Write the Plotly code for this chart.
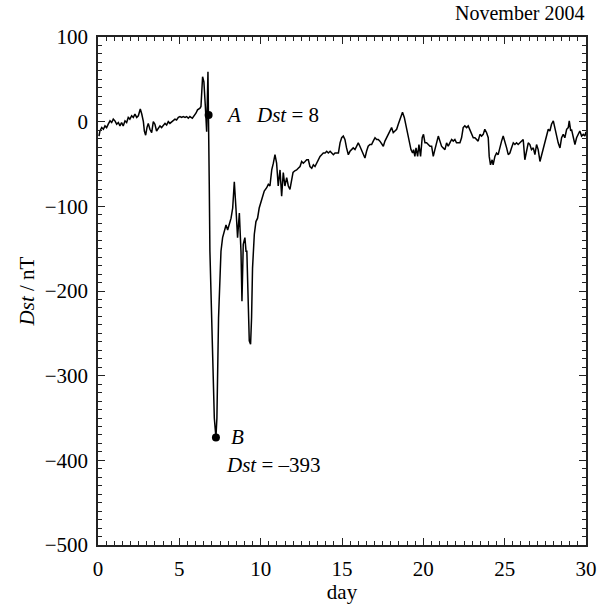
import plotly.graph_objects as go

# Dst index, November 2004
day = [0.06, 0.12, 0.23, 0.33, 0.43, 0.53, 0.63, 0.74, 0.84, 0.94, 1.04, 1.15, 1.25, 1.35, 1.45, 1.55,
       1.66, 1.76, 1.86, 1.96, 2.07, 2.17, 2.27, 2.38, 2.48, 2.6, 2.69, 2.79, 2.85, 2.93, 3.01, 3.09,
       3.19, 3.3, 3.4, 3.5, 3.6, 3.71, 3.81, 3.91, 4.01, 4.12, 4.22, 4.32, 4.42, 4.53, 4.63, 4.73,
       4.83, 4.94, 5.04, 5.14, 5.24, 5.35, 5.45, 5.55, 5.65, 5.8, 6.02, 6.12, 6.27, 6.33, 6.43, 6.51,
       6.6, 6.68, 6.76, 6.8, 6.84, 6.88, 6.96, 7.05, 7.15, 7.25, 7.31, 7.41, 7.5, 7.56, 7.66, 7.76,
       7.87, 7.97, 8.07, 8.18, 8.28, 8.38, 8.48, 8.58, 8.69, 8.79, 8.85, 8.93, 9.03, 9.1, 9.15, 9.22,
       9.3, 9.38, 9.44, 9.5, 9.61, 9.71, 9.81, 9.91, 10.02, 10.12, 10.22, 10.37, 10.47, 10.57, 10.68,
       10.78, 10.88, 10.98, 11.08, 11.19, 11.29, 11.39, 11.49, 11.6, 11.7, 11.8, 11.9, 11.99, 12.1,
       12.21, 12.31, 12.42, 12.52, 12.62, 12.73, 12.83, 12.93, 13.03, 13.14, 13.24, 13.34, 13.44,
       13.55, 13.65, 13.75, 13.85, 13.96, 14.06, 14.16, 14.27, 14.37, 14.47, 14.57, 14.68, 14.78,
       14.88, 14.98, 15.08, 15.18, 15.28, 15.39, 15.49, 15.59, 15.69, 15.8, 15.9, 16.0, 16.1, 16.2,
       16.3, 16.41, 16.51, 16.61, 16.72, 16.82, 16.92, 17.03, 17.13, 17.23, 17.33, 17.44, 17.54,
       17.64, 17.74, 17.84, 17.95, 18.05, 18.15, 18.25, 18.36, 18.46, 18.56, 18.66, 18.72, 18.83,
       18.93, 19.03, 19.13, 19.24, 19.34, 19.4, 19.48, 19.55, 19.65, 19.73, 19.83, 19.93, 20.01,
       20.1, 20.2, 20.3, 20.41, 20.51, 20.61, 20.71, 20.82, 20.92, 21.02, 21.12, 21.22, 21.33, 21.43,
       21.53, 21.63, 21.74, 21.84, 21.94, 22.04, 22.15, 22.25, 22.35, 22.45, 22.55, 22.66, 22.76,
       22.86, 22.96, 23.07, 23.17, 23.27, 23.37, 23.48, 23.58, 23.68, 23.78, 23.89, 23.99, 24.05,
       24.13, 24.23, 24.29, 24.4, 24.5, 24.6, 24.71, 24.81, 24.91, 25.01, 25.12, 25.22, 25.32, 25.42,
       25.53, 25.63, 25.73, 25.83, 25.94, 26.04, 26.14, 26.24, 26.35, 26.45, 26.55, 26.65, 26.76,
       26.86, 26.96, 27.06, 27.17, 27.27, 27.37, 27.47, 27.58, 27.68, 27.78, 27.88, 27.99, 28.09,
       28.19, 28.29, 28.4, 28.5, 28.6, 28.7, 28.81, 28.91, 28.97, 29.06, 29.11, 29.22, 29.32, 29.42,
       29.52, 29.62, 29.73, 29.83, 29.93, 30.0]
dst = [-17, -11, -7, -9, -5, -7, -3, 1, -1, 3, 1, -3, -1, -5, -1, -5,
       1, -1, 5, 3, 7, 5, 9, 5, 7, 15, 9, 0, -11, -16, -7, -2,
       -9, -13, 0, -3, -11, -7, -5, -7, -4, -2, -4, 0, -2, 0, 2, 3,
       2, 5, 6, 5, 6, 5, 6, 4, 6, 4, 10, 14, 16, 18, 53, 47,
       18, -12, 59, 8, -74, -153, -215, -271, -350, -373, -350, -232, -184, -153, -137, -129,
       -122, -128, -122, -114, -102, -71, -102, -137, -108, -153, -212, -145, -137, -153, -153, -212,
       -259, -263, -232, -173, -133, -118, -114, -102, -94, -90, -82, -78, -74, -76, -57,
       -49, -39, -49, -76, -57, -88, -60, -76, -66, -76, -80, -68, -60, -58,
       -57, -55, -53, -47, -49, -47, -45, -45, -53, -55, -51, -53, -49,
       -45, -41, -39, -37, -37, -35, -37, -35, -37, -39, -37, -37, -37,
       -25, -19, -17, -21, -31, -39, -35, -33, -31, -33, -29, -25, -29, -33,
       -37, -43, -35, -29, -27, -27, -23, -19, -21, -21, -23, -27, -29,
       -23, -19, -17, -11, -7, -13, -11, -9, -3, 3, 7, 11, 5,
       -5, -15, -23, -33, -37, -33, -41, -31, -41, -27, -41, -19, -15,
       -25, -25, -27, -29, -29, -41, -33, -23, -17, -23, -29, -31, -33, -25,
       -29, -25, -21, -23, -21, -25, -25, -25, -19, -7, -5, -7, -5,
       -9, -15, -19, -19, -21, -23, -15, -17, -15, -9, -13, -19, -41,
       -51, -45, -51, -41, -37, -39, -29, -23, -17, -23, -31, -39, -37, -31,
       -25, -27, -25, -27, -25, -23, -21, -45, -33, -25, -27, -33, -31,
       -39, -27, -33, -47, -39, -31, -25, -17, -9, -11, -3, 1, -9,
       -15, -25, -31, -19, -15, -19, -9, -7, 1, -11, -9, -17, -27, -19,
       -15, -11, -17, -15, -17, -12]

# marked points
pt_day = [6.8, 7.25]
pt_dst = [8, -373]

FONT = "Liberation Serif"
FS = 21

fig = go.Figure()
fig.add_trace(go.Scatter(x=day, y=dst, mode="lines",
                         line=dict(color="black", width=1.5), showlegend=False))
fig.add_trace(go.Scatter(x=pt_day, y=pt_dst, mode="markers",
                         marker=dict(color="black", size=8), showlegend=False))

fig.add_annotation(x=7.75, y=8, text="<i>A</i>", showarrow=False, xanchor="left",
                   font=dict(family=FONT, size=FS, color="black"))
fig.add_annotation(x=9.6, y=8, text="<i>Dst</i> = 8", showarrow=False, xanchor="left",
                   font=dict(family=FONT, size=FS, color="black"))
fig.add_annotation(x=8.05, y=-373, text="<i>B</i>", showarrow=False, xanchor="left",
                   font=dict(family=FONT, size=FS, color="black"))
fig.add_annotation(x=7.75, y=-406, text="<i>Dst</i> = \u2013393", showarrow=False, xanchor="left",
                   font=dict(family=FONT, size=FS, color="black"))
fig.add_annotation(x=1, y=1, xref="paper", yref="paper", yshift=11, text="November 2004",
                   showarrow=False, xanchor="right", yanchor="bottom",
                   font=dict(family=FONT, size=20, color="black"))

axis_common = dict(showline=True, linecolor="#222", linewidth=1.5, mirror="allticks",
                   ticks="inside", ticklen=7, tickwidth=1.2, tickcolor="#222",
                   showgrid=False, zeroline=False, ticklabelstandoff=4, automargin=False,
                   tickfont=dict(family=FONT, size=FS, color="black"))
fig.update_xaxes(range=[0, 30], dtick=5, tick0=0,
                 minor=dict(ticks="inside", dtick=0.5, ticklen=4, tickcolor="#222", tickwidth=1),
                 title=dict(text="day", font=dict(family=FONT, size=FS, color="black"), standoff=1),
                 **axis_common)
fig.update_yaxes(range=[-500, 100], dtick=100, tick0=0,
                 minor=dict(ticks="inside", dtick=10, ticklen=4, tickcolor="#222", tickwidth=1),
                 title=dict(text="<i>Dst</i> / nT", font=dict(family=FONT, size=FS, color="black"), standoff=4),
                 **axis_common)

fig.update_layout(width=605, height=604, margin=dict(l=98, r=19, t=37, b=59),
                  plot_bgcolor="white", paper_bgcolor="white",
                  font=dict(family=FONT, color="black"))

fig.write_html("out.html")
